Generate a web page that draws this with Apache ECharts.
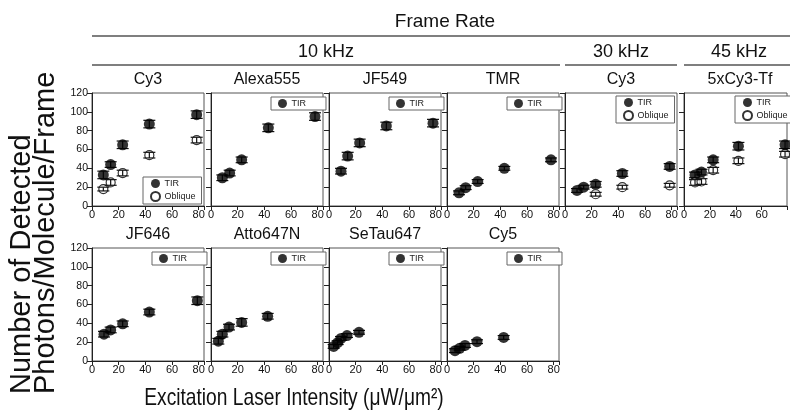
<!DOCTYPE html>
<html>
<head>
<meta charset="utf-8">
<title>Detected photons vs excitation intensity</title>
<style>
  html, body { margin: 0; padding: 0; background: #fff; }
  #chart { width: 790px; height: 414px; }
</style>
<script src="https://cdn.jsdelivr.net/npm/echarts@6.0.0/dist/echarts.min.js"></script>
</head>
<body>
<div id="chart"></div>
<script>
    // data: [x intensity], photons/molecule/frame, error (±)
    var cy3_10k_x = [8.5, 14, 23, 43, 78.5];
    var cy3_10k_tir = [33, 44, 65, 87, 97];
    var cy3_10k_tir_err = [4, 3, 4, 4, 4];
    var cy3_10k_obl = [18, 25, 35, 54, 70];
    var cy3_10k_obl_err = [2, 3, 3, 3, 3];

    var alexa555_x = [8.5, 14, 23, 43, 78];
    var alexa555_tir = [30, 35, 49, 83, 95];
    var alexa555_err = [3, 3, 3, 4, 4];

    var jf549_x = [9, 14, 23, 43, 78];
    var jf549_tir = [37, 53, 67, 85, 88];
    var jf549_err = [3, 4, 4, 4, 4];

    var tmr_x = [9, 14, 23, 43, 78];
    var tmr_tir = [14, 19.5, 26, 40, 49];
    var tmr_err = [2, 2, 2, 2, 2];

    var cy3_30k_x = [9, 14, 23, 43, 78.5];
    var cy3_30k_tir = [16.5, 20, 23, 34.5, 42];
    var cy3_30k_tir_err = [2, 2, 3, 3, 3];
    var cy3_30k_obl_x = [23, 43, 78.5];
    var cy3_30k_obl = [12.5, 20, 22];
    var cy3_30k_obl_err = [2, 2, 2];

    var cy3tf_45k_x = [8.5, 13.5, 22.5, 42, 78];
    var cy3tf_45k_tir = [33, 36, 49, 63.5, 65];
    var cy3tf_45k_tir_err = [3, 3, 3, 4, 4];
    var cy3tf_45k_obl = [25, 26, 38, 48, 55];
    var cy3tf_45k_obl_err = [3, 3, 3, 3, 3];

    var jf646_x = [9, 14, 23, 43, 79];
    var jf646_tir = [28.5, 33, 39.5, 52, 64];
    var jf646_err = [3, 3, 3, 3, 4];

    var atto647n_x = [5.5, 8.5, 13.5, 23, 42.5];
    var atto647n_tir = [21, 28.5, 36, 41, 47.5];
    var atto647n_err = [3, 3, 3, 4, 3];

    var setau647_x = [3.5, 6.5, 9, 13.5, 22.5];
    var setau647_tir = [15.5, 19.5, 24, 27, 30.5];
    var setau647_err = [2, 2, 2, 2, 2];

    var cy5_x = [6, 9.5, 13.5, 22.5, 42.5];
    var cy5_tir = [11, 13.5, 16.5, 20.5, 25];
    var cy5_err = [2, 2, 2, 2, 2];

    var xTicks = [0, 20, 40, 60, 80];
    var yTicks = [0, 20, 40, 60, 80, 100, 120];

    // layout of the small panels
    var FONT = "'Liberation Sans', Arial, sans-serif";
    var colLeft = [92, 211, 329, 447, 565, 684];
    var rowTop = [93, 248];
    var panelW = 112, panelH = 113, xMax = 84;

    var panels = [
        {title: 'Cy3', row: 0, col: 0, x: cy3_10k_x, tir: cy3_10k_tir, tirErr: cy3_10k_tir_err,
            oblX: cy3_10k_x, obl: cy3_10k_obl, oblErr: cy3_10k_obl_err, lgDx: 51, lgTop: 177},
        {title: 'Alexa555', row: 0, col: 1, x: alexa555_x, tir: alexa555_tir, tirErr: alexa555_err},
        {title: 'JF549', row: 0, col: 2, x: jf549_x, tir: jf549_tir, tirErr: jf549_err},
        {title: 'TMR', row: 0, col: 3, x: tmr_x, tir: tmr_tir, tirErr: tmr_err},
        {title: 'Cy3', row: 0, col: 4, x: cy3_30k_x, tir: cy3_30k_tir, tirErr: cy3_30k_tir_err,
            oblX: cy3_30k_obl_x, obl: cy3_30k_obl, oblErr: cy3_30k_obl_err, lgDx: 51, lgTop: 96},
        // this one runs off the page edge: keep the same scale, show only what fits
        {title: '5xCy3-Tf', row: 0, col: 5, x: cy3tf_45k_x, tir: cy3tf_45k_tir, tirErr: cy3tf_45k_tir_err,
            oblX: cy3tf_45k_x, obl: cy3tf_45k_obl, oblErr: cy3tf_45k_obl_err, lgDx: 51, lgTop: 96, clip: 106},
        {title: 'JF646', row: 1, col: 0, x: jf646_x, tir: jf646_tir, tirErr: jf646_err},
        {title: 'Atto647N', row: 1, col: 1, x: atto647n_x, tir: atto647n_tir, tirErr: atto647n_err},
        {title: 'SeTau647', row: 1, col: 2, x: setau647_x, tir: setau647_tir, tirErr: setau647_err},
        {title: 'Cy5', row: 1, col: 3, x: cy5_x, tir: cy5_tir, tirErr: cy5_err}
    ];

    function rows(xs, ys, es) {
        var out = [];
        for (var i = 0; i < xs.length; i++) out.push([xs[i], ys[i], es[i]]);
        return out;
    }

    // vertical error bar with caps
    function errBar(params, api) {
        var x = api.value(0), y = api.value(1), e = api.value(2);
        var hi = api.coord([x, y + e]), lo = api.coord([x, y - e]);
        var w = 6, st = {stroke: '#111', lineWidth: 1.2};
        return {type: 'group', children: [
            {type: 'line', shape: {x1: hi[0], y1: hi[1], x2: lo[0], y2: lo[1]}, style: st},
            {type: 'line', shape: {x1: hi[0] - w, y1: hi[1], x2: hi[0] + w, y2: hi[1]}, style: st},
            {type: 'line', shape: {x1: lo[0] - w, y1: lo[1], x2: lo[0] + w, y2: lo[1]}, style: st}
        ]};
    }

    var grids = [], xAxes = [], yAxes = [], series = [], legends = [], graphics = [];

    panels.forEach(function (p, i) {
        var left = colLeft[p.col], top = rowTop[p.row];
        var w = p.clip || panelW;
        grids.push({left: left, top: top, width: w, height: panelH,
            show: true, borderColor: '#555', borderWidth: 1, backgroundColor: '#fff'});
        xAxes.push({type: 'value', gridIndex: i, min: 0, max: xMax * w / panelW, interval: 20,
            axisLine: {onZero: false, lineStyle: {color: '#222', width: 1}},
            axisTick: {length: 4, lineStyle: {color: '#222'}},
            axisLabel: {fontSize: 11, margin: 3, color: '#111', fontFamily: FONT,
                formatter: function (v) { return xTicks.indexOf(v) >= 0 ? String(v) : ''; }},
            splitLine: {show: false}});
        yAxes.push({type: 'value', gridIndex: i, min: 0, max: 120, interval: 20,
            axisLine: {show: true, lineStyle: {color: '#222', width: 1}},
            axisTick: {show: true, length: 5, lineStyle: {color: '#222'}},
            axisLabel: {show: p.col === 0, fontSize: 10.5, margin: 4, color: '#111', fontFamily: FONT,
                formatter: function (v) { return yTicks.indexOf(v) >= 0 ? String(v) : ''; }},
            splitLine: {show: false}});

        series.push({name: 'errTIR' + i, type: 'custom', xAxisIndex: i, yAxisIndex: i,
            renderItem: errBar, encode: {x: 0, y: 1}, data: rows(p.x, p.tir, p.tirErr), z: 3});
        series.push({name: 'TIR', type: 'scatter', xAxisIndex: i, yAxisIndex: i,
            symbol: 'circle', symbolSize: 11, itemStyle: {color: '#000'},
            data: rows(p.x, p.tir, p.tirErr), z: 4});
        var names = ['TIR'];
        if (p.obl) {
            series.push({name: 'errObl' + i, type: 'custom', xAxisIndex: i, yAxisIndex: i,
                renderItem: errBar, encode: {x: 0, y: 1}, data: rows(p.oblX, p.obl, p.oblErr), z: 5});
            series.push({name: 'Oblique', type: 'scatter', xAxisIndex: i, yAxisIndex: i,
                symbol: 'circle', symbolSize: 9,
                itemStyle: {color: '#fff', borderColor: '#000', borderWidth: 1.2},
                data: rows(p.oblX, p.obl, p.oblErr), z: 4});
            names.push('Oblique');
        }
        legends.push({data: names, orient: 'vertical', selectedMode: false,
            left: left + (p.lgDx || 60), top: p.lgTop || (top + 4),
            itemWidth: 10, itemHeight: 9, itemGap: 3,
            padding: p.obl ? [2, 6, 2, 7] : [2, 20, 2, 7],
            borderColor: '#666', borderWidth: 1, backgroundColor: '#fff',
            textStyle: {fontSize: 9, color: '#222', fontFamily: FONT, padding: [0, 0, 0, -1]}});

        graphics.push({type: 'text', x: left + panelW / 2, y: top - 13,
            style: {text: p.title, fontSize: 16, fill: '#111', fontFamily: FONT,
                textAlign: 'center', textVerticalAlign: 'middle'}});
    });

    // header: frame rate bands
    var lineStyle = {stroke: '#555', lineWidth: 1.5};
    graphics.push(
        {type: 'text', x: 445, y: 22, style: {text: 'Frame Rate', fontSize: 19, fill: '#111', fontFamily: FONT,
            textAlign: 'center', textVerticalAlign: 'middle'}},
        {type: 'line', shape: {x1: 92, y1: 36, x2: 790, y2: 36}, style: lineStyle},
        {type: 'text', x: 326, y: 52, style: {text: '10 kHz', fontSize: 18, fill: '#111', fontFamily: FONT,
            textAlign: 'center', textVerticalAlign: 'middle'}},
        {type: 'text', x: 621, y: 52, style: {text: '30 kHz', fontSize: 18, fill: '#111', fontFamily: FONT,
            textAlign: 'center', textVerticalAlign: 'middle'}},
        {type: 'text', x: 739, y: 52, style: {text: '45 kHz', fontSize: 18, fill: '#111', fontFamily: FONT,
            textAlign: 'center', textVerticalAlign: 'middle'}},
        {type: 'line', shape: {x1: 92, y1: 65, x2: 560, y2: 65}, style: lineStyle},
        {type: 'line', shape: {x1: 565, y1: 65, x2: 677, y2: 65}, style: lineStyle},
        {type: 'line', shape: {x1: 684, y1: 65, x2: 790, y2: 65}, style: lineStyle}
    );

    // axis titles
    graphics.push(
        {type: 'text', x: 22, y: 394, rotation: Math.PI / 2,
            style: {text: 'Number of Detected', fontSize: 29, fill: '#111', fontFamily: FONT,
                textAlign: 'left', textVerticalAlign: 'middle'}},
        {type: 'text', x: 46, y: 394, rotation: Math.PI / 2,
            style: {text: 'Photons/Molecule/Frame', fontSize: 29, fill: '#111', fontFamily: FONT,
                textAlign: 'left', textVerticalAlign: 'middle'}},
        {type: 'text', x: 294, y: 398, scaleX: 0.8,
            style: {text: 'Excitation Laser Intensity (\u03bcW/\u03bcm\u00b2)', fontSize: 24, fill: '#111', fontFamily: FONT,
                textAlign: 'center', textVerticalAlign: 'middle'}}
    );

    var myChart = echarts.init(document.getElementById('chart'), null, {renderer: 'canvas'});
    myChart.setOption({
        animation: false,
        backgroundColor: '#fff',
        grid: grids,
        xAxis: xAxes,
        yAxis: yAxes,
        legend: legends,
        graphic: graphics,
        series: series
    });
</script>
</body>
</html>
